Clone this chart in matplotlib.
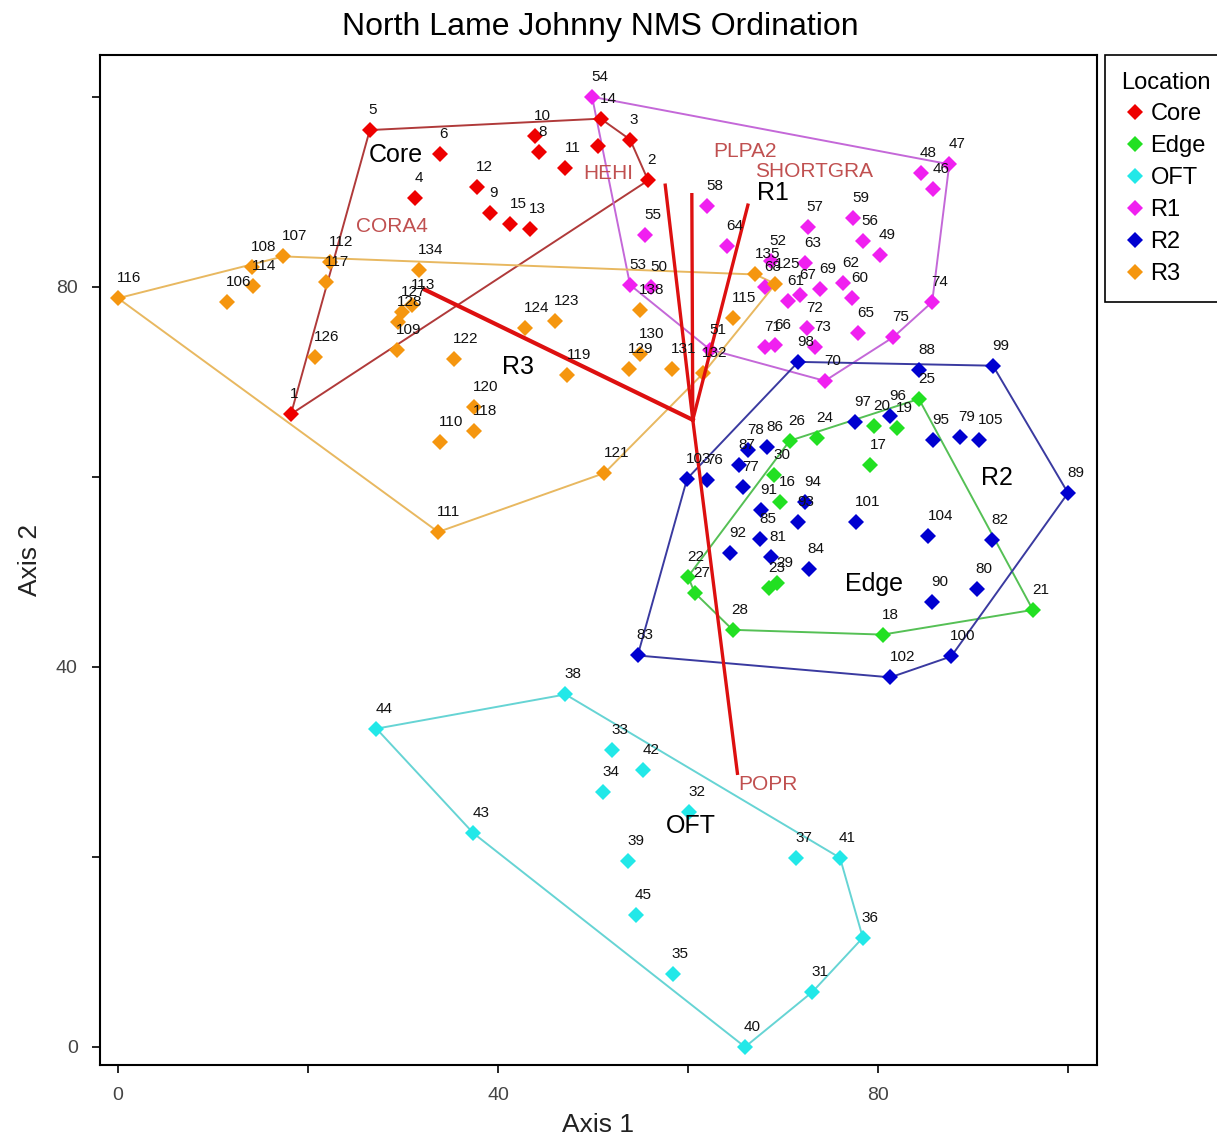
import matplotlib
matplotlib.use("Agg")
import matplotlib.pyplot as plt
from matplotlib.lines import Line2D
from matplotlib.ticker import FixedLocator

plt.rcParams["font.family"] = ["Liberation Sans", "DejaVu Sans"]

# --- site scores (Axis 1, Axis 2) per location ---
core_ids = ["1", "2", "3", "4", "5", "6", "", "8", "9", "10", "11", "12", "13", "14", "15"]
core_x = [18.2, 55.8, 53.9, 31.3, 26.5, 33.9, 50.5, 44.3, 39.2, 43.9, 47.1, 37.8, 43.4, 50.8, 41.3]
core_y = [66.6, 91.2, 95.5, 89.3, 96.5, 94.0, 94.8, 94.2, 87.8, 95.9, 92.5, 90.5, 86.1, 97.7, 86.6]

edge_ids = ["16", "17", "18", "19", "20", "21", "22", "23", "24", "25", "26", "27", "28", "29", "30"]
edge_x = [69.7, 79.2, 80.5, 82.0, 79.6, 96.3, 60.0, 68.5, 73.6, 84.3, 70.7, 60.7, 64.7, 69.4, 69.1]
edge_y = [57.4, 61.2, 43.4, 65.1, 65.4, 46.0, 49.5, 48.3, 64.1, 68.2, 63.8, 47.8, 43.9, 48.8, 60.2]

oft_ids = ["31", "32", "33", "34", "35", "36", "37", "38", "39", "40", "41", "42", "43", "44", "45"]
oft_x = [73.1, 60.1, 52.0, 51.1, 58.4, 78.4, 71.4, 47.1, 53.7, 66.0, 76.0, 55.3, 37.4, 27.2, 54.5]
oft_y = [5.8, 24.7, 31.3, 26.8, 7.7, 11.5, 19.9, 37.1, 19.6, 0.0, 19.9, 29.2, 22.5, 33.5, 13.9]

r1_ids = ["46", "47", "48", "49", "50", "51", "52", "53", "54", "55", "56", "57", "58", "59", "60",
          "61", "62", "63", "64", "65", "66", "67", "68", "69", "70", "71", "72", "73", "74", "75"]
r1_x = [85.8, 87.5, 84.5, 80.2, 56.1, 62.3, 68.7, 53.9, 49.9, 55.5, 78.4, 72.6, 62.0, 77.4, 77.3,
        70.5, 76.3, 72.3, 64.1, 77.9, 69.2, 71.8, 68.1, 73.9, 74.4, 68.1, 72.5, 73.4, 85.7, 81.6]
r1_y = [90.3, 92.9, 92.0, 83.4, 80.0, 73.4, 82.7, 80.2, 100.0, 85.5, 84.8, 86.3, 88.5, 87.2, 78.8,
        78.5, 80.4, 82.5, 84.3, 75.1, 73.9, 79.1, 80.0, 79.8, 70.1, 73.7, 75.7, 73.7, 78.4, 74.7]

r2_ids = ["76", "77", "78", "79", "80", "81", "82", "83", "84", "85", "86", "87", "88", "89", "90",
          "91", "92", "93", "94", "95", "96", "97", "98", "99", "100", "101", "102", "103", "104", "105"]
r2_x = [62.0, 65.8, 66.3, 88.6, 90.4, 68.7, 92.0, 54.7, 72.7, 67.6, 68.3, 65.4, 84.3, 100.0, 85.7,
        67.7, 64.4, 71.6, 72.3, 85.8, 81.3, 77.6, 71.6, 92.1, 87.7, 77.7, 81.3, 59.9, 85.3, 90.6]
r2_y = [59.7, 58.9, 62.8, 64.2, 48.2, 51.6, 53.4, 41.2, 50.3, 53.5, 63.1, 61.3, 71.2, 58.3, 46.8,
        56.5, 52.0, 55.2, 57.4, 63.9, 66.4, 65.8, 72.1, 71.7, 41.1, 55.2, 38.9, 59.8, 53.8, 63.9]

r3_ids = ["106", "107", "108", "109", "110", "111", "112", "113", "114", "115", "116", "117", "118",
          "119", "120", "121", "122", "123", "124", "125", "126", "127", "128", "129", "130", "131",
          "132", "138", "134", "135"]
r3_x = [11.5, 17.4, 14.1, 29.4, 33.9, 33.7, 22.3, 30.9, 14.2, 64.7, 0.0, 21.9, 37.5,
        47.3, 37.5, 51.2, 35.4, 46.0, 42.8, 69.2, 20.7, 29.9, 29.5, 53.8, 54.9, 58.3,
        61.6, 54.9, 31.7, 67.1]
r3_y = [78.4, 83.2, 82.1, 73.4, 63.7, 54.2, 82.6, 78.1, 80.1, 76.7, 78.8, 80.5, 64.8,
        70.7, 67.4, 60.4, 72.4, 76.4, 75.7, 80.3, 72.6, 77.3, 76.3, 71.4, 72.9, 71.4,
        70.9, 77.6, 81.8, 81.3]

# --- species vectors ---
vec_origin = (60.5, 66.0)
vec_names = ["CORA4", "HEHI", "PLPA2", "SHORTGRA", "POPR"]
vec_x = [32.3, 57.6, 60.4, 66.3, 65.2]
vec_y = [79.7, 90.7, 89.7, 88.6, 28.8]
vec_lab_x = [28.8, 51.6, 66.0, 73.3, 68.4]
vec_lab_y = [86.3, 91.9, 94.2, 92.1, 27.6]

# --- group name positions ---
grp_names = ["Core", "R1", "R3", "R2", "Edge", "OFT"]
grp_x = [29.2, 68.9, 42.1, 92.5, 79.6, 60.3]
grp_y = [93.9, 89.9, 71.6, 59.9, 48.7, 23.3]

groups = [
    ("Core", core_ids, core_x, core_y, "#ee0000", "#b03a3a"),
    ("Edge", edge_ids, edge_x, edge_y, "#22e022", "#55c055"),
    ("OFT", oft_ids, oft_x, oft_y, "#22e8e8", "#66d4d4"),
    ("R1", r1_ids, r1_x, r1_y, "#f020f0", "#c468d8"),
    ("R2", r2_ids, r2_x, r2_y, "#0000d0", "#3a3aa0"),
    ("R3", r3_ids, r3_x, r3_y, "#f5960f", "#e8b860"),
]


def hull(xs, ys):
    """convex hull (monotone chain)"""
    pts = sorted(set(zip(xs, ys)))

    def cross(o, a, b):
        return (a[0] - o[0]) * (b[1] - o[1]) - (a[1] - o[1]) * (b[0] - o[0])

    lower, upper = [], []
    for p in pts:
        while len(lower) >= 2 and cross(lower[-2], lower[-1], p) <= 0:
            lower.pop()
        lower.append(p)
    for p in reversed(pts):
        while len(upper) >= 2 and cross(upper[-2], upper[-1], p) <= 0:
            upper.pop()
        upper.append(p)
    h = lower[:-1] + upper[:-1]
    h.append(h[0])
    return [p[0] for p in h], [p[1] for p in h]


fig = plt.figure(figsize=(12.17, 11.43), dpi=100)
ax = fig.add_axes([100 / 1217, 78 / 1143, 997 / 1217, 1010 / 1143])

for name, ids, xs, ys, col, hcol in groups:
    hx, hy = hull(xs, ys)
    ax.plot(hx, hy, color=hcol, lw=1.4, zorder=2)

for name, ids, xs, ys, col, hcol in groups:
    ax.plot(xs, ys, "D", color=col, markersize=8.5, markeredgewidth=0, zorder=3)

# vectors
for vx, vy in zip(vec_x, vec_y):
    lw = 3.0 if vx < 40 else 2.4
    ax.plot([vec_origin[0], vx], [vec_origin[1], vy], color="#dd1010", lw=lw, zorder=4)
for name, lx, ly in zip(vec_names, vec_lab_x, vec_lab_y):
    ax.text(lx, ly, name, color="#c05050", fontsize=15, ha="center", va="center", zorder=6)

# point labels
for name, ids, xs, ys, col, hcol in groups:
    for i, x, y in zip(ids, xs, ys):
        if i:
            ax.annotate(i, (x, y), xytext=(-1, 20), textcoords="offset pixels",
                        fontsize=11, ha="left", va="center", color="#111111", zorder=5)

for name, x, y in zip(grp_names, grp_x, grp_y):
    ax.text(x, y, name, fontsize=18, ha="center", va="center", color="black", zorder=6)

ax.set_xlim(-1.9, 103.05)
ax.set_ylim(-1.9, 104.4)
ax.set_xticks([0, 40, 80])
ax.set_yticks([0, 40, 80])
ax.xaxis.set_minor_locator(FixedLocator([20, 60, 100]))
ax.yaxis.set_minor_locator(FixedLocator([20, 60, 100]))
ax.tick_params(which="both", direction="out", length=6, width=1.2, labelsize=14,
               labelcolor="#444444", pad=10)
for s in ax.spines.values():
    s.set_linewidth(1.5)
ax.set_xlabel("Axis 1", fontsize=19, color="#222222", labelpad=6)
ax.set_ylabel("Axis 2", fontsize=19, color="#222222", labelpad=10)
fig.text(600 / 1217, 1 - 27 / 1143, "North Lame Johnny NMS Ordination", fontsize=23,
         ha="center", va="center")

handles = [Line2D([], [], marker="D", linestyle="none", color=g[4], markersize=8,
                  markeredgewidth=0) for g in groups]
leg = ax.legend(handles, [g[0] for g in groups], title="Location", loc="upper left",
                bbox_to_anchor=(1105 / 1217, 1 - 55 / 1143), bbox_transform=fig.transFigure,
                borderaxespad=0, fancybox=False, edgecolor="black", fontsize=17,
                title_fontsize=17, handlelength=0.7, handletextpad=0.3, borderpad=0.7,
                labelspacing=0.42, framealpha=1)
leg.get_frame().set_linewidth(1.2)

fig.savefig("out.png", dpi=100)
